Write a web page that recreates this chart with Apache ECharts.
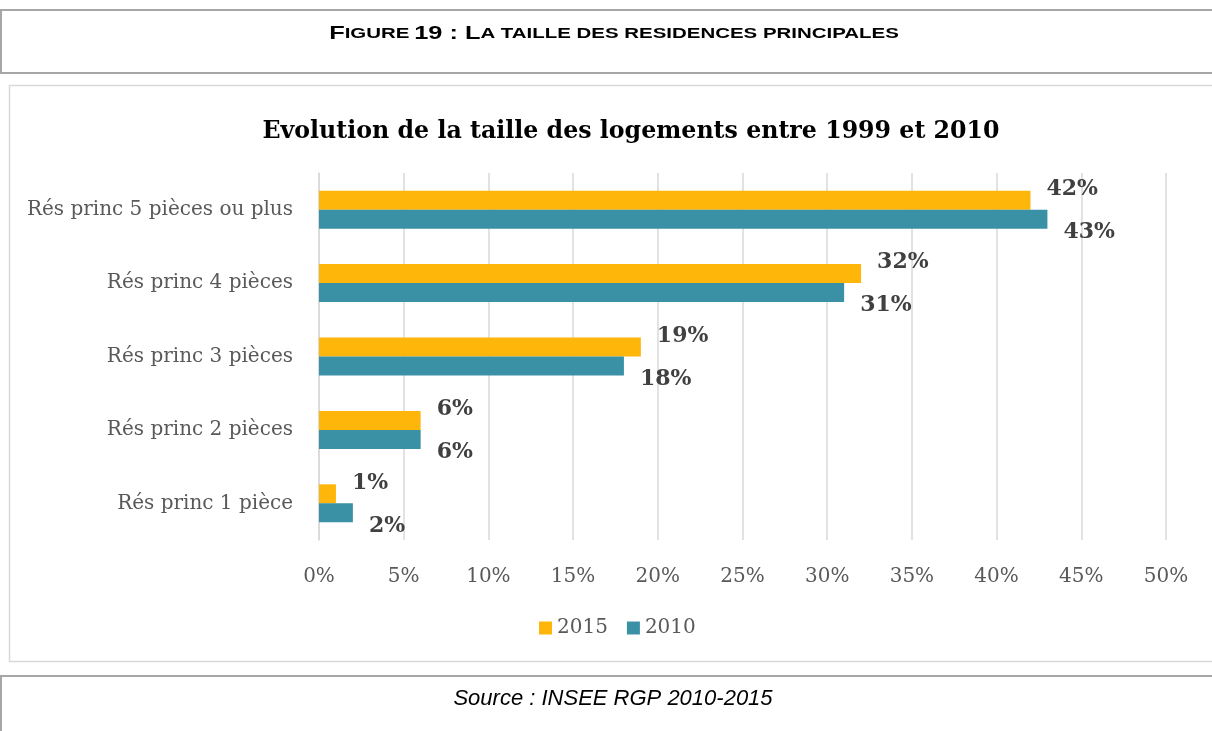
<!DOCTYPE html>
<html>
<head>
<meta charset="utf-8">
<script src="https://cdn.jsdelivr.net/npm/echarts@6/dist/echarts.min.js"></script>
<style>
html,body{margin:0;padding:0;background:#fff;}
#c{width:1212px;height:731px;}
</style>
</head>
<body>
<div id="c"></div>
<script>
const categories = ["Rés princ 1 pièce", "Rés princ 2 pièces", "Rés princ 3 pièces", "Rés princ 4 pièces", "Rés princ 5 pièces ou plus"];
const values2015 = [1, 6, 19, 32, 42];
const values2010 = [2, 6, 18, 31, 43];
const xTicks = [0, 5, 10, 15, 20, 25, 30, 35, 40, 45, 50];

const serif = "DejaVu Serif";
const sans = "Liberation Sans";
const chart = echarts.init(document.getElementById('c'), null, {renderer: 'canvas'});
chart.setOption({
  animation: false,
  backgroundColor: '#fff',
  title: {
    text: 'Evolution de la taille des logements entre 1999 et 2010',
    left: 626, top: 115, textAlign: 'center',
    textStyle: {fontFamily: serif, fontWeight: 'bold', fontSize: 23.7, color: '#000'}
  },
  legend: {
    data: ['2015', '2010'],
    left: 534, top: 613,
    itemWidth: 13, itemHeight: 13, itemGap: 19,
    icon: 'rect',
    textStyle: {fontFamily: serif, fontSize: 20, color: '#595959'}
  },
  grid: {left: 319, right: 46, top: 173, bottom: 191, containLabel: false},
  xAxis: {
    type: 'value', min: xTicks[0], max: xTicks[xTicks.length - 1], interval: 5,
    axisLine: {show: false}, axisTick: {show: false},
    splitLine: {show: true, lineStyle: {color: '#d9d9d9', width: 1.5}},
    axisLabel: {margin: 27, formatter: v => v + '%', fontFamily: serif, fontSize: 20, color: '#595959'}
  },
  yAxis: {
    type: 'category', data: categories,
    axisLine: {show: true, lineStyle: {color: '#d9d9d9', width: 1.5}},
    axisTick: {show: false},
    axisLabel: {margin: 26, padding: [6, 0, 0, 0], fontFamily: serif, fontSize: 20, color: '#595959'}
  },
  series: [
    {
      name: '2015', type: 'bar', data: values2015, barWidth: 19, barGap: '0%',
      itemStyle: {color: '#FFB60B'},
      label: {show: true, position: 'right', distance: 16, offset: [0, -11], formatter: p => p.value + '%',
        fontFamily: serif, fontWeight: 'bold', fontSize: 22, color: '#404040'}
    },
    {
      name: '2010', type: 'bar', data: values2010, barWidth: 19, barGap: '0%',
      itemStyle: {color: '#3A91A6'},
      label: {show: true, position: 'right', distance: 16, offset: [0, 13], formatter: p => p.value + '%',
        fontFamily: serif, fontWeight: 'bold', fontSize: 22, color: '#404040'}
    }
  ],
  graphic: [
    {type: 'rect', shape: {x: 1, y: 10, width: 1230, height: 63}, style: {fill: 'none', stroke: '#a6a6a6', lineWidth: 2}, z: -10},
    {type: 'rect', shape: {x: 9.5, y: 85.5, width: 1230, height: 576}, style: {fill: 'none', stroke: '#d9d9d9', lineWidth: 1.5}, z: -10},
    {type: 'rect', shape: {x: 1, y: 676, width: 1230, height: 80}, style: {fill: 'none', stroke: '#a6a6a6', lineWidth: 2}, z: -10},
    {type: 'text', x: 614, y: 34, scaleX: 1.41, style: {
      text: '{a|F}{b|IGURE} {a|19 : L}{b|A TAILLE DES RESIDENCES PRINCIPALES}',
      align: 'center', verticalAlign: 'middle',
      rich: {
        a: {fontFamily: sans, fontWeight: 'bold', fontSize: 18, fill: '#000'},
        b: {fontFamily: sans, fontWeight: 'bold', fontSize: 14.5, fill: '#000'}
      }
    }},
    {type: 'text', x: 613, y: 699, style: {
      text: 'Source : INSEE RGP 2010-2015', align: 'center', verticalAlign: 'middle',
      fontFamily: sans, fontStyle: 'italic', fontSize: 22, fill: '#000'
    }}
  ]
});
</script>
</body>
</html>
